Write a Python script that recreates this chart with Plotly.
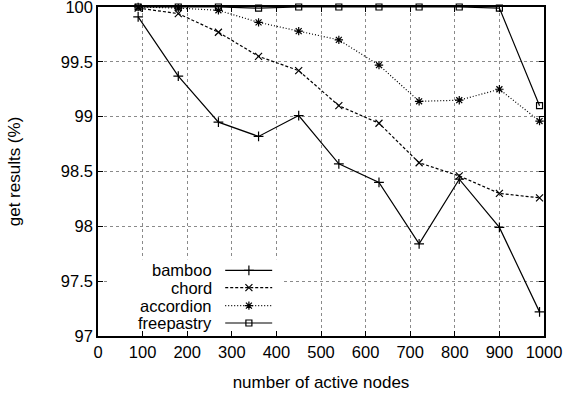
import plotly.graph_objects as go

nodes = [90, 180, 270, 360, 450, 540, 630, 720, 810, 900, 990]
bamboo = [99.91, 99.37, 98.95, 98.82, 99.01, 98.57, 98.40, 97.84, 98.43, 97.99, 97.22]
chord = [99.99, 99.94, 99.77, 99.55, 99.42, 99.10, 98.94, 98.58, 98.46, 98.30, 98.26]
accordion = [100.0, 99.99, 99.97, 99.86, 99.78, 99.70, 99.47, 99.14, 99.15, 99.25, 98.96]
freepastry = [100.0, 100.0, 100.0, 99.99, 100.0, 100.0, 100.0, 100.0, 100.0, 99.99, 99.10]

series_names = ["bamboo", "chord", "accordion", "freepastry"]
series_values = [bamboo, chord, accordion, freepastry]
dashes = ["solid", "3px,2px", "1px,2px", "solid"]
symbols = ["cross-thin-open", "x-thin-open", "asterisk-open", "square-open"]
sizes = [7, 7, 7, 6]

x_ticks = [0, 100, 200, 300, 400, 500, 600, 700, 800, 900, 1000]
y_ticks = [97, 97.5, 98, 98.5, 99, 99.5, 100]
y_ticklabels = ["97", "97.5", "98", "98.5", "99", "99.5", "100"]
x_range = [0, 1000]
y_range = [97, 100]

W, H = 567, 398
L, R, T, B = 97.7, 544.0, 6.7, 335.7


def px_to_x(px):
    return x_range[0] + (px - L) / (R - L) * (x_range[1] - x_range[0])


def px_to_y(py):
    return y_range[1] - (py - T) / (B - T) * (y_range[1] - y_range[0])


font = dict(family="Liberation Sans, Arial, sans-serif", size=17, color="black")
tick_font = dict(font, size=16.5)
legend_font = dict(font, size=16.5)

fig = go.Figure()
for name, vals, dash, sym, sz in zip(series_names, series_values, dashes, symbols, sizes):
    fig.add_trace(go.Scatter(
        x=nodes, y=vals, mode="lines+markers", name=name, showlegend=False,
        line=dict(color="black", width=1.2, dash=dash),
        marker=dict(symbol=sym, size=sz, color="black", line=dict(color="black", width=1.2)),
        cliponaxis=False,
    ))

# white background of the gnuplot-style key (hides the grid behind it)
fig.add_shape(type="rect", xref="x", yref="y", x0=px_to_x(108), x1=px_to_x(283),
              y0=px_to_y(334), y1=px_to_y(259),
              fillcolor="white", line=dict(width=0), layer="between")

# gnuplot-style key: text right-aligned, line sample to the right
leg_rows = [270, 287.3, 305.3, 322.7]
for name, dash, sym, sz, yy in zip(series_names, dashes, symbols, sizes, leg_rows):
    fig.add_trace(go.Scatter(
        x=[px_to_x(225), px_to_x(272)], y=[px_to_y(yy)] * 2, mode="lines", showlegend=False,
        line=dict(color="black", width=1.2, dash=dash), hoverinfo="skip",
    ))
    fig.add_trace(go.Scatter(
        x=[px_to_x(248.7)], y=[px_to_y(yy)], mode="markers", showlegend=False,
        marker=dict(symbol=sym, size=sz, color="black", line=dict(color="black", width=1.2)),
        hoverinfo="skip",
    ))
    fig.add_annotation(x=px_to_x(214), y=px_to_y(yy), xref="x", yref="y", text=name,
                       showarrow=False, xanchor="right", yanchor="middle", font=legend_font)

axis_common = dict(
    showline=True, linecolor="black", linewidth=1.5, mirror="ticks",
    ticks="inside", ticklen=5, tickcolor="black", tickwidth=1,
    showgrid=True, gridcolor="#8a8a8a", gridwidth=1, griddash="dot",
    zeroline=False, tickfont=tick_font, ticklabeloverflow="allow", automargin=False,
)

fig.update_layout(
    width=W, height=H,
    margin=dict(l=L, r=W - R, t=T, b=H - B, autoexpand=False),
    paper_bgcolor="white", plot_bgcolor="white",
    font=font,
    xaxis=dict(axis_common, range=x_range, tickvals=x_ticks,
               title=dict(text="number of active nodes", font=font, standoff=17)),
    yaxis=dict(axis_common, range=y_range, tickvals=y_ticks, ticktext=y_ticklabels,
               title=dict(text="get results (%)", font=font, standoff=36)),
)

fig.write_html("out.html")
